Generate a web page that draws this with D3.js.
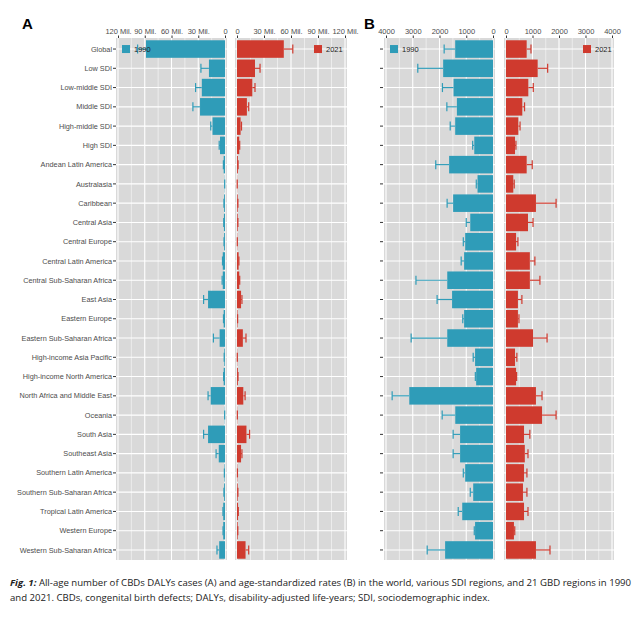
<!DOCTYPE html>
<html><head><meta charset="utf-8">
<script src="https://cdn.jsdelivr.net/npm/d3@7"></script>
<style>body{margin:0;background:#fff}svg{display:block}</style>
</head><body><svg id="c" width="639" height="618"></svg>
<script>
const regions = ["Global","Low SDI","Low-middle SDI","Middle SDI","High-middle SDI","High SDI","Andean Latin America","Australasia","Caribbean","Central Asia","Central Europe","Central Latin America","Central Sub-Saharan Africa","East Asia","Eastern Europe","Eastern Sub-Saharan Africa","High-income Asia Pacific","High-income North America","North Africa and Middle East","Oceania","South Asia","Southeast Asia","Southern Latin America","Southern Sub-Saharan Africa","Tropical Latin America","Western Europe","Western Sub-Saharan Africa"];
// Panel A: DALYs number (millions)
const casesA1990 = [88.6,18,26,28,14,5.6,1.5,0.3,1,1.2,1,2.5,2.5,19,1.5,6,0.8,1.5,16,0.3,19,7,0.6,1,2,2,6.5];
const casesA1990Hi = [98,27,33,36,16,6.5,1.8,0.35,1.2,1.4,1.1,2.8,3.2,24,1.7,13,0.9,1.6,19,0.4,24,10,0.7,1.2,2.3,2.2,9];
const casesA2021 = [52,20,17,11,4,2.5,1,0.2,0.8,0.8,0.3,1.8,2.5,4.5,0.6,6.5,0.3,1,7,0.3,10.5,4.5,0.4,0.8,1.2,0.8,9.5];
const casesA2021Hi = [62,25.6,20,13,5,3,1.2,0.25,1,1,0.35,2.1,3,5.5,0.7,10,0.35,1.1,9,0.4,14,5.5,0.5,1,1.4,0.9,13];
// Panel B: age-standardized DALY rates
const ratesB1990 = [1413,1863,1475,1350,1413,700,1640,578,1490,850,1040,1080,1710,1530,1080,1710,670,630,3130,1410,1230,1230,1040,740,1150,670,1790];
const ratesB1990Hi = [1826,2812,1890,1725,1600,760,2140,625,1715,1000,1110,1190,2880,2090,1130,3060,740,660,3770,1900,1490,1490,1110,850,1300,700,2460];
const ratesB2021 = [780,1195,842,615,465,340,780,275,1130,830,380,900,900,450,450,1020,340,380,1130,1360,680,710,680,640,680,300,1130];
const ratesB2021Hi = [943,1572,1030,700,530,375,990,310,1890,1020,450,1090,1280,600,490,1550,410,400,1360,1890,900,830,790,790,830,330,1660];
const ticksA = [0,30,60,90,120];
const ticksB = [0,1000,2000,3000,4000];

const svg = d3.select("#c");
const blue = "#2f9cb8", red = "#cf3a2e", bg = "#d9d9d9";
const y = d3.scaleBand().domain(regions).range([39.5, 559.5]).paddingInner(0.09).paddingOuter(0.04);

function half(x0, x1, max, ticks, vals, his, color, fmt, legend, legX) {
  const x = d3.scaleLinear().domain([0, max]).range([x0, x1]);
  const lo = Math.min(x(0), x(max)) - 2, hi = Math.max(x(0), x(max)) + 2;
  const g = svg.append("g");
  g.append("rect").attr("x", lo).attr("y", 38).attr("width", hi - lo).attr("height", 522).attr("fill", bg);
  const minor = ticks.slice(1).map((t, i) => (t + ticks[i]) / 2);
  g.selectAll(".mn").data(minor).join("line").attr("x1", d => x(d)).attr("x2", d => x(d))
    .attr("y1", 38).attr("y2", 560).attr("stroke", "#fff").attr("stroke-width", 0.5);
  g.selectAll(".mj").data(ticks).join("line").attr("x1", d => x(d)).attr("x2", d => x(d))
    .attr("y1", 38).attr("y2", 560).attr("stroke", "#fff").attr("stroke-width", 1.1);
  g.selectAll(".hz").data(regions).join("line").attr("x1", lo).attr("x2", hi)
    .attr("y1", d => y(d) + y.bandwidth() / 2).attr("y2", d => y(d) + y.bandwidth() / 2)
    .attr("stroke", "#fff").attr("stroke-width", 1.1);
  g.selectAll(".bar").data(regions).join("rect")
    .attr("x", (d, i) => Math.min(x(0), x(vals[i]))).attr("width", (d, i) => Math.abs(x(vals[i]) - x(0)))
    .attr("y", d => y(d)).attr("height", y.bandwidth()).attr("fill", color);
  const cy = d => y(d) + y.bandwidth() / 2;
  g.selectAll(".eb").data(regions).join("line")
    .attr("x1", (d, i) => x(vals[i])).attr("x2", (d, i) => x(his[i]))
    .attr("y1", cy).attr("y2", cy).attr("stroke", color).attr("stroke-width", 1.2);
  g.selectAll(".ec").data(regions).join("line")
    .attr("x1", (d, i) => x(his[i])).attr("x2", (d, i) => x(his[i]))
    .attr("y1", d => cy(d) - 4.5).attr("y2", d => cy(d) + 4.5).attr("stroke", color).attr("stroke-width", 1.2);
  const ax = g.append("g").attr("transform", "translate(0,38)")
    .call(d3.axisTop(x).tickValues(ticks).tickFormat(fmt).tickSize(2.5).tickPadding(2));
  ax.select(".domain").remove();
  ax.selectAll("text").attr("font-family", "Liberation Sans, Arial").attr("font-size", 7.5).attr("fill", "#4d4d4d");
  ax.selectAll("line").attr("stroke", "#333");
  g.append("rect").attr("x", legX).attr("y", y("Global") + y.bandwidth() / 2 - 4).attr("width", 8).attr("height", 8).attr("fill", color);
  g.append("text").attr("x", legX + 12).attr("y", y("Global") + y.bandwidth() / 2 + 3)
    .attr("font-family", "Liberation Sans, Arial").attr("font-size", 7.5).attr("fill", "#222").text(legend);
}
const fmtA = d => d === 0 ? "0" : d + " Mil.";
half(225, 118, 120, ticksA, casesA1990, casesA1990Hi, blue, fmtA, "1990", 122);
half(237, 345, 120, ticksA, casesA2021, casesA2021Hi, red, fmtA, "2021", 314);
half(493, 386, 4000, ticksB, ratesB1990, ratesB1990Hi, blue, d => d, "1990", 390);
half(506, 612, 4000, ticksB, ratesB2021, ratesB2021Hi, red, d => d, "2021", 583);

// category labels (panel A) and tick stubs
const lab = svg.append("g");
lab.selectAll("text").data(regions).join("text").attr("x", 112).attr("y", d => y(d) + y.bandwidth() / 2 + 2.6)
  .attr("text-anchor", "end").attr("font-family", "Liberation Sans, Arial").attr("font-size", 7.3).attr("fill", "#4d4d4d").text(d => d);
lab.selectAll(".t").data(regions).join("line").attr("x1", 113).attr("x2", 116)
  .attr("y1", d => y(d) + y.bandwidth() / 2).attr("y2", d => y(d) + y.bandwidth() / 2).attr("stroke", "#333");
lab.selectAll(".t2").data(regions).join("line").attr("x1", 380).attr("x2", 383)
  .attr("y1", d => y(d) + y.bandwidth() / 2).attr("y2", d => y(d) + y.bandwidth() / 2).attr("stroke", "#333");

svg.append("text").attr("x", 22).attr("y", 29).attr("font-family", "Liberation Sans, Arial").attr("font-weight", "bold").attr("font-size", 15).text("A");
svg.append("text").attr("x", 364).attr("y", 29).attr("font-family", "Liberation Sans, Arial").attr("font-weight", "bold").attr("font-size", 15).text("B");

const cap = svg.append("g").attr("font-family", "Open Sans, Noto Sans").attr("font-size", 9.6).attr("fill", "#222");
const t1 = cap.append("text").attr("x", 10).attr("y", 586);
t1.append("tspan").attr("font-style", "italic").attr("font-weight", "bold").text("Fig. 1:");
t1.append("tspan").text(" All-age number of CBDs DALYs cases (A) and age-standardized rates (B) in the world, various SDI regions, and 21 GBD regions in 1990");
cap.append("text").attr("x", 10).attr("y", 601).text("and 2021. CBDs, congenital birth defects; DALYs, disability-adjusted life-years; SDI, sociodemographic index.");
</script></body></html>
